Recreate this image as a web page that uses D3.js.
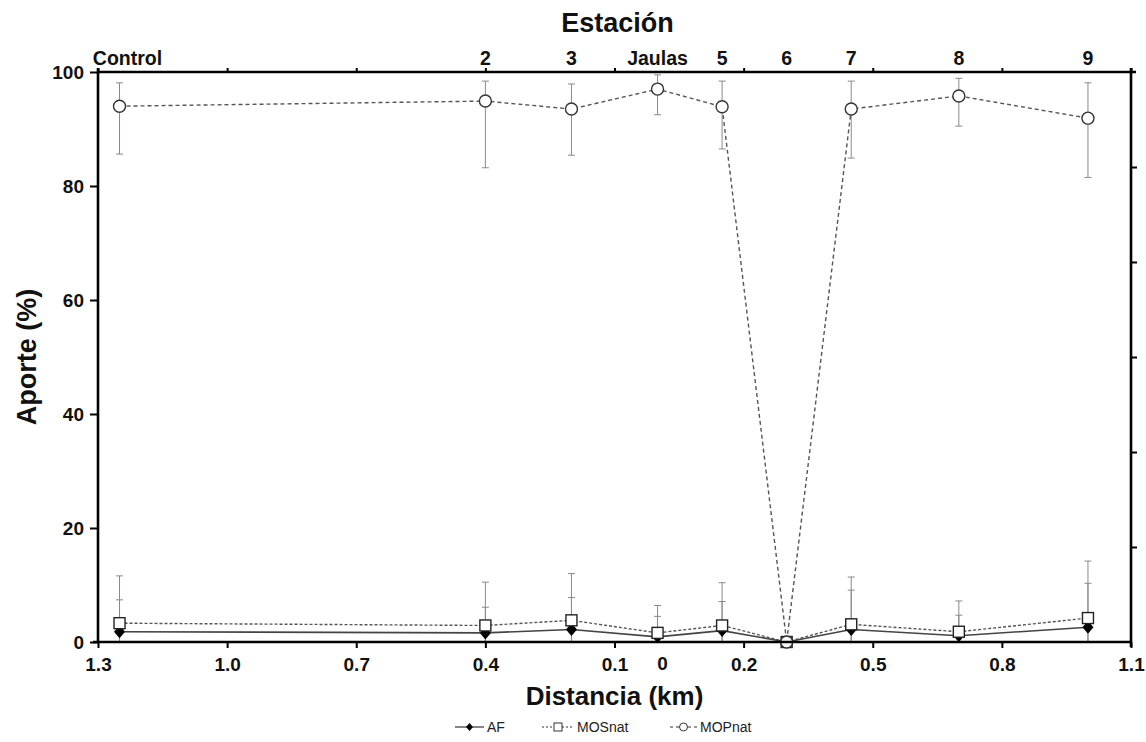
<!DOCTYPE html>
<html><head><meta charset="utf-8">
<script src="https://cdn.jsdelivr.net/npm/d3@7"></script>
<style>
html,body{margin:0;padding:0;background:#fff;}
svg text{font-family:"Liberation Sans",Arial,sans-serif;}
</style></head>
<body>
<svg id="chart" width="1146" height="742"></svg>
<script>
// ---- data ----
const stations = ["Control","2","3","Jaulas","5","6","7","8","9"];
const distance = [-1.25,-0.4,-0.2,0,0.15,0.3,0.45,0.7,1.0];
const AF      = [1.8,1.6,2.2,0.9,2.0,0,2.2,1.1,2.6];
const AF_sd   = [5.6,4.5,5.6,3.6,5.1,0,6.9,3.6,7.7];
const MOSnat  = [3.3,2.9,3.8,1.6,2.9,0,3.1,1.8,4.2];
const MOS_sd  = [8.3,7.6,8.2,4.8,7.5,0,8.3,5.4,10.0];
const MOPnat  = [94.0,94.9,93.5,97.0,93.9,0,93.5,95.8,91.9];
const MOP_up  = [4.1,3.5,4.4,2.5,4.5,0,4.9,3.1,6.2];
const MOP_down= [8.4,11.7,8.1,4.5,7.4,0,8.6,5.3,10.4];
const xTicks  = [-1.3,-1.0,-0.7,-0.4,-0.1,0.2,0.5,0.8,1.1];
const xTickLabels = ["1.3","1.0","0.7","0.4","0.1","0.2","0.5","0.8","1.1"];
const zeroLabel = {value:0, label:"0"};
const yTicks  = [0,20,40,60,80,100];
const rightTicks = [16.67,33.33,50,66.67,83.33];
const legendNames = ["AF","MOSnat","MOPnat"];

// ---- layout ----
const svg = d3.select("#chart");
const L=98, R=1131, T=72, B=642;
const x = d3.scaleLinear().domain([-1.3,1.1]).range([L,R]);
const y = d3.scaleLinear().domain([0,100]).range([B,T]);

svg.append("defs").append("clipPath").attr("id","clip")
  .append("rect").attr("x",L-20).attr("y",T-10).attr("width",R-L+40).attr("height",B-T+10);

// error bars
const eb = svg.append("g").attr("clip-path","url(#clip)")
  .attr("stroke","#8a8a8a").attr("stroke-width",1).attr("fill","none");
function errBar(xv, lo, hi){
  const px = x(xv);
  eb.append("line").attr("x1",px).attr("x2",px).attr("y1",y(Math.max(lo,0))).attr("y2",y(hi));
  eb.append("line").attr("x1",px-3.5).attr("x2",px+3.5).attr("y1",y(hi)).attr("y2",y(hi));
  if(lo>0) eb.append("line").attr("x1",px-3.5).attr("x2",px+3.5).attr("y1",y(lo)).attr("y2",y(lo));
}
distance.forEach((d,i)=>{
  if(MOS_sd[i]>0) errBar(d, MOSnat[i]-MOS_sd[i], MOSnat[i]+MOS_sd[i]);
  if(AF_sd[i]>0) errBar(d, AF[i]-AF_sd[i], AF[i]+AF_sd[i]);
  if(MOP_up[i]>0) errBar(d, MOPnat[i]-MOP_down[i], MOPnat[i]+MOP_up[i]);
});

// lines
const mk = (vals)=> d3.line().x((d,i)=>x(distance[i])).y(d=>y(d))(vals);
svg.append("path").attr("d",mk(MOPnat)).attr("fill","none").attr("stroke","#555")
  .attr("stroke-width",1.4).attr("stroke-dasharray","4,3");
svg.append("path").attr("d",mk(AF)).attr("fill","none").attr("stroke","#444").attr("stroke-width",1.6);
svg.append("path").attr("d",mk(MOSnat)).attr("fill","none").attr("stroke","#555")
  .attr("stroke-width",1.4).attr("stroke-dasharray","3,2");

// markers
const diamond = (cx,cy,w,h)=>`M${cx},${cy-h}L${cx+w},${cy}L${cx},${cy+h}L${cx-w},${cy}Z`;
svg.append("g").selectAll("path").data(AF).join("path")
  .attr("d",(d,i)=>diamond(x(distance[i]),y(d),5.5,6.5)).attr("fill","#000");
svg.append("g").selectAll("rect").data(MOSnat).join("rect")
  .attr("x",(d,i)=>x(distance[i])-5.5).attr("y",d=>y(d)-5.5).attr("width",11).attr("height",11)
  .attr("fill","#fff").attr("stroke","#222").attr("stroke-width",1.4);
svg.append("g").selectAll("circle").data(MOPnat).join("circle")
  .attr("cx",(d,i)=>x(distance[i])).attr("cy",d=>y(d)).attr("r",6)
  .attr("fill","#fff").attr("stroke","#333").attr("stroke-width",1.4);

// axes
const axStyle = g=>{
  g.select(".domain").remove();
  g.selectAll(".tick line").attr("stroke","#000").attr("stroke-width",2);
  g.selectAll(".tick text").attr("fill","#111").attr("font-weight","bold");
};
svg.append("g").attr("transform",`translate(${L},0)`)
  .call(d3.axisLeft(y).tickValues(yTicks).tickSize(8).tickPadding(6).tickFormat(d3.format("d")))
  .call(axStyle).call(g=>g.selectAll(".tick text").attr("font-size",19));
svg.append("g").attr("transform",`translate(0,${B})`)
  .call(d3.axisBottom(x).tickValues(xTicks).tickSize(6).tickPadding(10).tickFormat((d,i)=>xTickLabels[i]))
  .call(axStyle).call(g=>g.selectAll(".tick text").attr("font-size",19));
svg.append("text").attr("x",x(zeroLabel.value)+5).attr("y",B+28)
  .attr("text-anchor","middle").attr("font-size",19).attr("font-weight","bold").attr("fill","#111")
  .text(zeroLabel.label);
svg.append("g").attr("transform",`translate(0,${T})`)
  .call(d3.axisTop(x).tickValues(xTicks).tickSize(4).tickFormat(""))
  .call(axStyle);
svg.append("g").selectAll("text").data(stations).join("text")
  .attr("x",(d,i)=>x(distance[i]) + (i===0?8:0)).attr("y",T-7)
  .attr("text-anchor","middle").attr("font-size",19.5).attr("font-weight","bold").attr("fill","#111")
  .text(d=>d);
svg.append("g").attr("transform",`translate(${R},0)`)
  .call(d3.axisRight(y).tickValues(rightTicks).tickSize(6).tickFormat(""))
  .call(axStyle);

// frame lines
const fr = svg.append("g").attr("stroke","#000").attr("stroke-width",2.6);
fr.append("line").attr("x1",L).attr("x2",L).attr("y1",T-4).attr("y2",B+1);
fr.append("line").attr("x1",L-5).attr("x2",R+1).attr("y1",B).attr("y2",B);
fr.append("line").attr("x1",L-1).attr("x2",R+5).attr("y1",T).attr("y2",T);
fr.append("line").attr("x1",R).attr("x2",R).attr("y1",T-4).attr("y2",B+5);

// titles
svg.append("text").attr("x",(L+R)/2+3).attr("y",32).attr("text-anchor","middle")
  .attr("font-size",27).attr("font-weight","bold").attr("fill","#111").text("Estación");
svg.append("text").attr("x",(L+R)/2).attr("y",705).attr("text-anchor","middle")
  .attr("font-size",26).attr("font-weight","bold").attr("fill","#111").text("Distancia (km)");
svg.append("text").attr("transform",`translate(36,${(T+B)/2}) rotate(-90)`).attr("text-anchor","middle")
  .attr("font-size",27).attr("font-weight","bold").attr("fill","#111").text("Aporte (%)");

// legend
const lg = svg.append("g");
const ly = 727;
const items = [
  {x0:455,x1:484,tx:487,dash:null,sym:"d"},
  {x0:542,x1:574,tx:577,dash:"2,2",sym:"s"},
  {x0:670,x1:697,tx:700,dash:"3,3",sym:"c"}
];
items.forEach((it,i)=>{
  lg.append("line").attr("x1",it.x0).attr("x2",it.x1).attr("y1",ly).attr("y2",ly)
    .attr("stroke","#333").attr("stroke-width",1.2).attr("stroke-dasharray",it.dash);
  const cx=(it.x0+it.x1)/2;
  if(it.sym==="d") lg.append("path").attr("d",diamond(cx,ly,3.5,4)).attr("fill","#000");
  if(it.sym==="s") lg.append("rect").attr("x",cx-4).attr("y",ly-4).attr("width",8).attr("height",8)
    .attr("fill","#fff").attr("stroke","#333");
  if(it.sym==="c") lg.append("circle").attr("cx",cx).attr("cy",ly).attr("r",4)
    .attr("fill","#fff").attr("stroke","#333");
  lg.append("text").attr("x",it.tx).attr("y",ly+5).attr("font-size",14).attr("fill","#222")
    .text(legendNames[i]);
});
</script>
</body></html>
